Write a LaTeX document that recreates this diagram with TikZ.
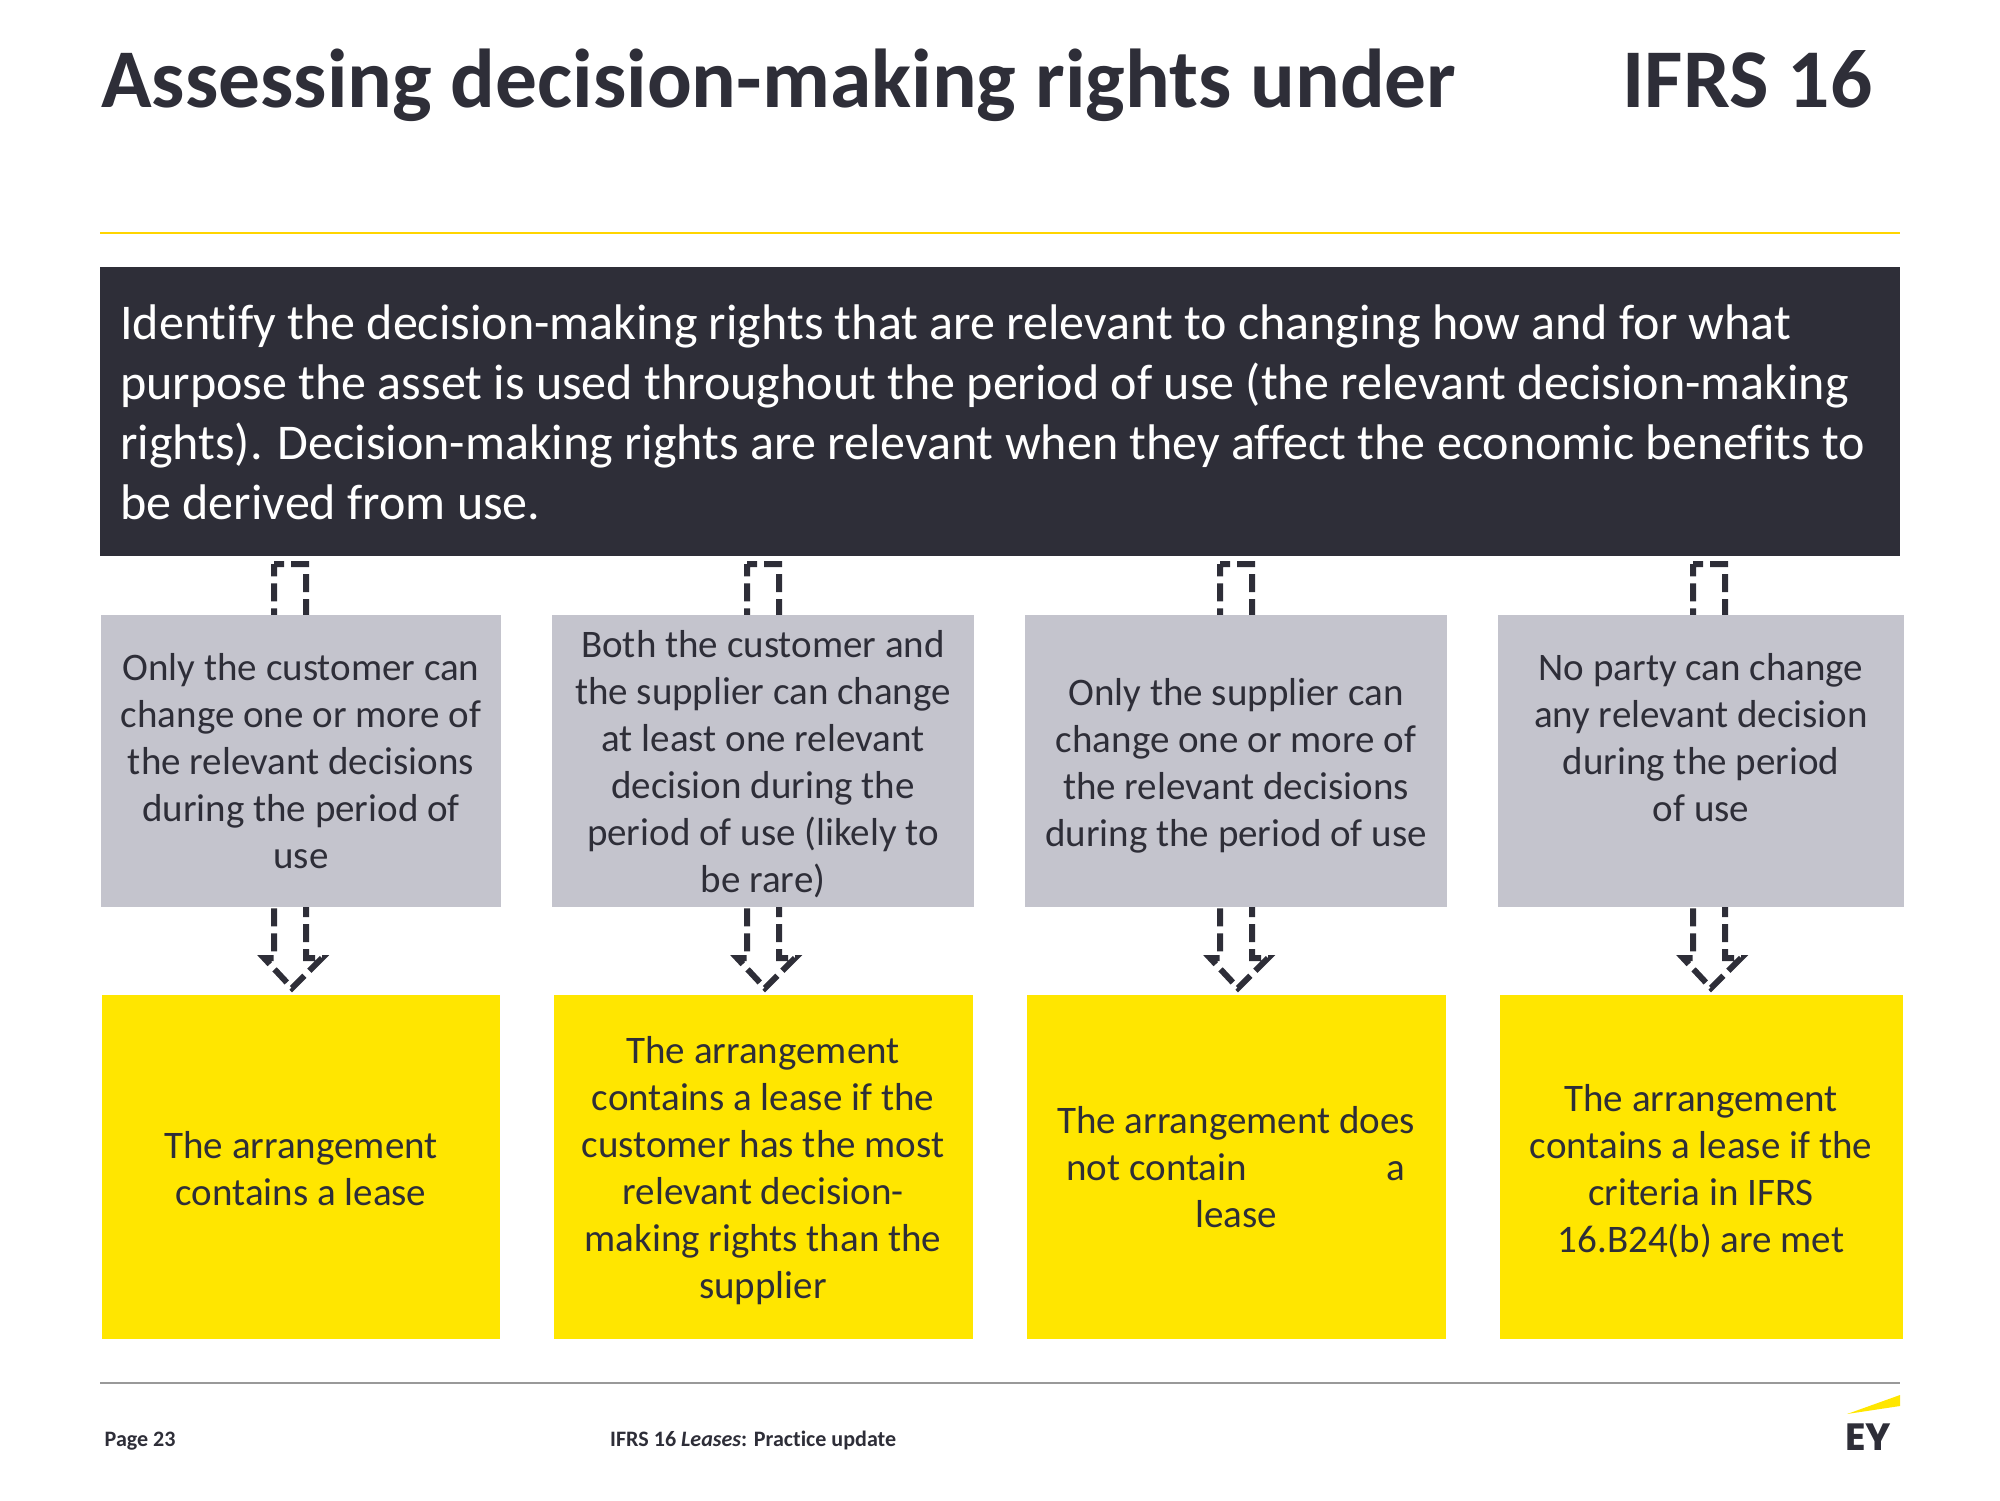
\documentclass[tikz,border=0pt]{standalone}
\usepackage{fontspec}
\setmainfont[Ligatures=NoCommon]{Carlito}
\newfontfamily\logofont{Poppins}
\usetikzlibrary{calc,backgrounds}
\definecolor{eydark}{HTML}{2E2E38}
\definecolor{eygrey}{HTML}{C4C4CD}
\definecolor{eyyellow}{HTML}{FFE600}
\definecolor{eygold}{HTML}{FFD500}
\definecolor{eyrule}{HTML}{999999}
\newcommand{\fs}[2]{\fontsize{#1pt}{#2pt}\selectfont}
\newcommand{\dn}[1]{\rule{0pt}{#1pt}}
\tikzset{
  x=1pt,y=-1pt,
  box/.style={inner sep=0pt,outer sep=0pt,align=center,text=eydark,font=\fs{39}{47}},
  greybox/.style={box,fill=eygrey,minimum height=292pt},
  yellowbox/.style={box,fill=eyyellow,minimum height=344pt},
  blockarrow/.style={draw=eydark,line width=6pt,dash pattern=on 18pt off 7pt,dash phase=8pt,miter limit=10},
  footer/.style={inner sep=0pt,anchor=base west,text=eydark,font=\fs{22.05}{25}\bfseries},
  titletext/.style={inner sep=0pt,anchor=base west,text=eydark,font=\fs{83.5}{90}\bfseries}
}
\begin{document}
\begin{tikzpicture}
\useasboundingbox (0,0) rectangle (2000,1500);
\node[titletext] (title) at (101,107) {Assessing decision-making rights under\hspace{166pt}IFRS 16};
\coordinate (ruleA) at (100,233);
\coordinate (ruleB) at (1900,233);
\draw[eygold,line width=2.4pt] (ruleA) -- (ruleB);
\node[fill=eydark,minimum width=1800pt,minimum height=289pt,inner sep=0pt,outer sep=0pt,anchor=north west] (head) at (100,267) {};
\node[inner sep=0pt,anchor=west,align=left,text=white,font=\fs{50.05}{60}] (headtext) at (120,412)
 {Identify the decision-making rights that are relevant to changing how and for what\\
  purpose the asset is used throughout the period of use (the relevant decision-making\\
  rights). Decision-making rights are relevant when they affect the economic benefits to\\
  be derived from use.};

\node[greybox,minimum width=400pt] (g1) at (301,761) {Only the customer can\\change one or more of\\the relevant decisions\\during the period of\\use};
\node[greybox,minimum width=422pt] (g2) at (763,761) {\dn{34}Both the customer and\\the supplier can change\\at least one relevant\\decision during the\\period of use (likely to\\be rare)};
\node[greybox,minimum width=422pt] (g3) at (1236,761) {\dn{37}Only the supplier can\\change one or more of\\the relevant decisions\\during the period of use};
\node[greybox,minimum width=406pt] (g4) at (1701,761) {No party can change\\any relevant decision\\during the period\\of use\\\mbox{}};

\node[yellowbox,minimum width=398pt] (y1) at (301,1167) {\dn{31}The arrangement\\contains a lease};
\node[yellowbox,minimum width=419pt] (y2) at (763,1167) {\dn{35}The arrangement\\contains a lease if the\\customer has the most\\relevant decision-\\making rights than the\\supplier};
\node[yellowbox,minimum width=419pt] (y3) at (1236,1167) {The arrangement does\\not contain\hspace{140pt}a\\lease};
\node[yellowbox,minimum width=403pt] (y4) at (1701,1167) {\dn{35}The arrangement\\contains a lease if the\\criteria in IFRS\\16.B24(b) are met};

\begin{scope}[on background layer]
\foreach \g/\off in {g1/-27,g2/-16,g3/-16,g4/-8}{
  \coordinate (t) at ($(\g.north)+(\off,-51)$);
  \coordinate (b) at ($(\g.south)+(\off,51)$);
  \draw[blockarrow] (t) -- ++(32,0) -- ($(b)+(32,0)$) -- ++(16,0) -- ($(b)+(18,30)$) -- ($(b)+(-10,0)$) -- (b) -- cycle;
}
\end{scope}

\coordinate (footA) at (100,1383);
\coordinate (footB) at (1900,1383);
\draw[eyrule,line width=1.4pt] (footA) -- (footB);
\node[footer] (page) at (104.5,1446) {Page 23};
\node[footer] (doc) at (610,1446) {IFRS 16 \textit{Leases}: Practice update};
\fill[eyyellow] (1847,1414) -- (1900,1395) -- (1900,1406) -- cycle;
\node[inner sep=0pt,anchor=base west,text=eydark,font=\logofont\bfseries\fs{38}{40}] (logo) at (1845,1450) {EY};
\end{tikzpicture}
\end{document}
